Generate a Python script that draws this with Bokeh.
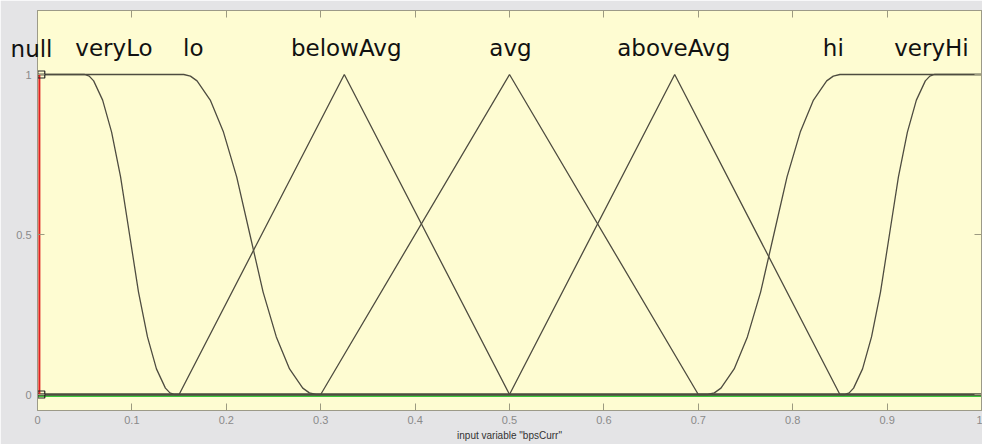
from bokeh.plotting import figure
from bokeh.models import Range1d, FixedTicker, LinearAxis, Label
from bokeh.embed import file_html
from bokeh.resources import INLINE

# ---- data ----
mf_names = ["veryLo", "lo", "belowAvg", "avg", "aboveAvg", "hi", "veryHi"]
label_x = [0.081, 0.165, 0.327, 0.501, 0.674, 0.843, 0.947]
label_y = 1.084
null_name = "null"
null_label_y = 1.08

null_x = [0.002, 0.002]
null_y = [1.0, 0.0]

veryLo_x = [0.0, 0.05, 0.0548, 0.0595, 0.069, 0.0785, 0.088, 0.0975, 0.107, 0.1165, 0.126, 0.1355, 0.1403, 0.145, 1.0]
veryLo_y = [1.0, 1.0, 0.995, 0.98, 0.92, 0.82, 0.68, 0.5, 0.32, 0.18, 0.08, 0.02, 0.005, 0.0, 0.0]

lo_x = [0.0, 0.155, 0.162, 0.169, 0.183, 0.197, 0.211, 0.225, 0.239, 0.253, 0.267, 0.281, 0.288, 0.295, 1.0]
lo_y = [1.0, 1.0, 0.995, 0.98, 0.92, 0.82, 0.68, 0.5, 0.32, 0.18, 0.08, 0.02, 0.005, 0.0, 0.0]

belowAvg_x = [0.0, 0.15, 0.325, 0.5, 1.0]
belowAvg_y = [0.0, 0.0, 1.0, 0.0, 0.0]

avg_x = [0.0, 0.3, 0.5, 0.7, 1.0]
avg_y = [0.0, 0.0, 1.0, 0.0, 0.0]

aboveAvg_x = [0.0, 0.5, 0.675, 0.85, 1.0]
aboveAvg_y = [0.0, 0.0, 1.0, 0.0, 0.0]

hi_x = [0.0, 0.71, 0.717, 0.724, 0.738, 0.752, 0.766, 0.78, 0.794, 0.808, 0.822, 0.836, 0.843, 0.85, 1.0]
hi_y = [0.0, 0.0, 0.005, 0.02, 0.08, 0.18, 0.32, 0.5, 0.68, 0.82, 0.92, 0.98, 0.995, 1.0, 1.0]

veryHi_x = [0.0, 0.855, 0.8598, 0.8645, 0.874, 0.8835, 0.893, 0.9025, 0.912, 0.9215, 0.931, 0.9405, 0.9453, 0.95, 1.0]
veryHi_y = [0.0, 0.0, 0.005, 0.02, 0.08, 0.18, 0.32, 0.5, 0.68, 0.82, 0.92, 0.98, 0.995, 1.0, 1.0]

base_x = [0.0, 1.0]
base_y = [-0.005, -0.005]

handle_x = [0.004, 0.004]
handle_y = [1.0, 0.0]

x_ticks = [0, 0.1, 0.2, 0.3, 0.4, 0.5, 0.6, 0.7, 0.8, 0.9, 1.0]
x_tick_labels = ["0", "0.1", "0.2", "0.3", "0.4", "0.5", "0.6", "0.7", "0.8", "0.9", "1"]
y_ticks = [0, 0.5, 1.0]
y_tick_labels = ["0", "0.5", "1"]
x_label = 'input variable "bpsCurr"'

# ---- styling ----
PLOT_BG = "#FEFCD2"
BORDER_BG = "#E4E4E6"
FRAME = "#9C9A88"
TICK = "#9C9A80"
TICKLAB = "#8A8A8A"
MF_COLOR = "#4E4C40"
LABEL_FONT = "DejaVu Sans"
LABEL_SIZE = "23px"
LABEL_COLOR = "#111111"

p = figure(width=982, height=444, output_backend="svg", toolbar_location=None,
           x_range=Range1d(0, 1), y_range=Range1d(-0.05, 1.2),
           x_axis_location=None, y_axis_location=None,
           min_border_left=37, min_border_right=1, min_border_top=10, min_border_bottom=34)
p.background_fill_color = PLOT_BG
p.border_fill_color = BORDER_BG
p.outline_line_color = FRAME
p.outline_line_width = 1
p.xgrid.visible = False
p.ygrid.visible = False

def style_axis(ax, ticks, labels, show_labels):
    ax.ticker = FixedTicker(ticks=ticks)
    ax.major_label_overrides = {t: (l if show_labels else "") for t, l in zip(ticks, labels)}
    ax.major_tick_in = 7
    ax.major_tick_out = 0
    ax.minor_tick_in = 0
    ax.minor_tick_out = 0
    ax.major_tick_line_color = TICK
    ax.axis_line_color = FRAME
    ax.major_label_text_color = TICKLAB
    ax.major_label_text_font = "Liberation Sans"
    if show_labels:
        ax.major_label_text_font_size = "11px"
        ax.major_label_standoff = 6
    else:
        ax.major_label_text_font_size = "0px"
        ax.major_label_standoff = 0

xb = LinearAxis()
style_axis(xb, x_ticks, x_tick_labels, True)
xb.major_label_standoff = 5
xb.axis_label = x_label
xb.axis_label_text_font = "Liberation Sans"
xb.axis_label_text_font_size = "10px"
xb.axis_label_text_font_style = "normal"
xb.axis_label_text_color = "#333333"
xb.axis_label_standoff = 3
p.add_layout(xb, "below")

xt = LinearAxis()
style_axis(xt, x_ticks, x_tick_labels, False)
p.add_layout(xt, "above")

yl = LinearAxis()
style_axis(yl, y_ticks, y_tick_labels, True)
p.add_layout(yl, "left")

yr = LinearAxis()
style_axis(yr, y_ticks, y_tick_labels, False)
p.add_layout(yr, "right")

# the "null" name sits across the left frame edge, so it is carried by a tick label
yn = LinearAxis(ticker=FixedTicker(ticks=[null_label_y]),
                major_label_overrides={null_label_y: null_name})
yn.major_tick_in = 0
yn.major_tick_out = 0
yn.minor_tick_in = 0
yn.minor_tick_out = 0
yn.major_tick_line_color = None
yn.axis_line_color = None
yn.major_label_standoff = -39
yn.major_label_text_font = LABEL_FONT
yn.major_label_text_font_size = LABEL_SIZE
yn.major_label_text_color = LABEL_COLOR
p.add_layout(yn, "left")

# green baseline
p.line(base_x, base_y, line_color="#3CC83C", line_width=1.6)

# membership functions
for xs, ys in [(veryLo_x, veryLo_y), (lo_x, lo_y), (belowAvg_x, belowAvg_y),
               (avg_x, avg_y), (aboveAvg_x, aboveAvg_y), (hi_x, hi_y), (veryHi_x, veryHi_y)]:
    p.line(xs, ys, line_color=MF_COLOR, line_width=1.3)

# selected MF (null) in red
p.line(null_x, null_y, line_color="#E02020", line_width=2)
p.scatter(handle_x, handle_y, marker="square", size=7, fill_color=None,
          line_color="#222222", line_width=1.2)

# MF labels
for name, lx in zip(mf_names, label_x):
    p.add_layout(Label(x=lx, y=label_y, text=name, text_align="center",
                       text_baseline="alphabetic", text_font=LABEL_FONT,
                       text_font_size=LABEL_SIZE, text_color=LABEL_COLOR))

open("out.html", "w").write(file_html(p, INLINE))
